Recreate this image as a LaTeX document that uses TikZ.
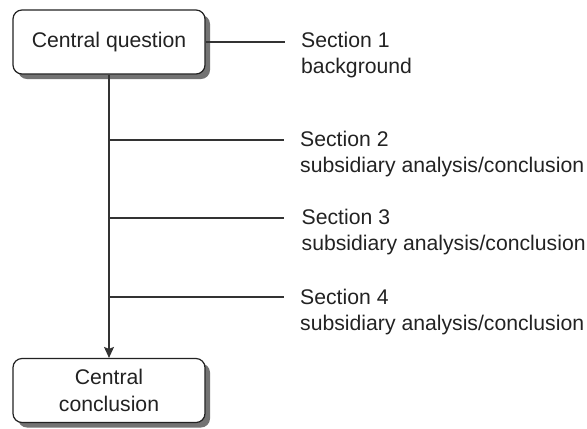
\documentclass[tikz,border=0pt]{standalone}
\usepackage{fontspec}
\setmainfont{Liberation Sans}
\usetikzlibrary{shadows,arrows.meta}
\definecolor{ink}{HTML}{222222}
\definecolor{lineink}{HTML}{333333}
\tikzset{
  mainbox/.style={draw=ink, line width=1.2bp, rounded corners=9bp, fill=white,
    minimum width=192bp, minimum height=64bp, inner sep=0pt, align=center,
    drop shadow={shadow xshift=5bp, shadow yshift=-5bp, fill=black!55, opacity=1}},
  conn/.style={draw=lineink, line width=1.3bp},
  sectext/.style={anchor=base west, inner sep=0pt, align=left, text=ink},
}
\begin{document}
\begin{tikzpicture}[x=1bp,y=-1bp, font=\fontsize{21.2bp}{26.5bp}\selectfont, text=ink]
\useasboundingbox (0,0) rectangle (587,428);
\node[mainbox] (q) at (109,42) {\raisebox{-2bp}{Central question}};
\node[mainbox] (c) at (109,390.5) {Central\\conclusion};
\coordinate (e1) at (285,42);
\coordinate (b2) at (109,140);
\coordinate (e2) at (284,140);
\coordinate (b3) at (109,218);
\coordinate (e3) at (284,218);
\coordinate (b4) at (109,297);
\coordinate (e4) at (284,297);
\draw[conn] (q.east) -- (e1);
\draw[conn, -{Stealth[length=11bp, width=10bp, inset=2bp]}] (q.south) -- (c.north);
\draw[conn] (b2) -- (e2);
\draw[conn] (b3) -- (e3);
\draw[conn] (b4) -- (e4);
\node[sectext] (s1) at (301,73.5) {Section 1\\background};
\node[sectext] (s2) at (300,172.5) {Section 2\\subsidiary analysis/conclusion};
\node[sectext] (s3) at (301.5,250.5) {Section 3\\subsidiary analysis/conclusion};
\node[sectext] (s4) at (300,330.5) {Section 4\\subsidiary analysis/conclusion};
\end{tikzpicture}
\end{document}
